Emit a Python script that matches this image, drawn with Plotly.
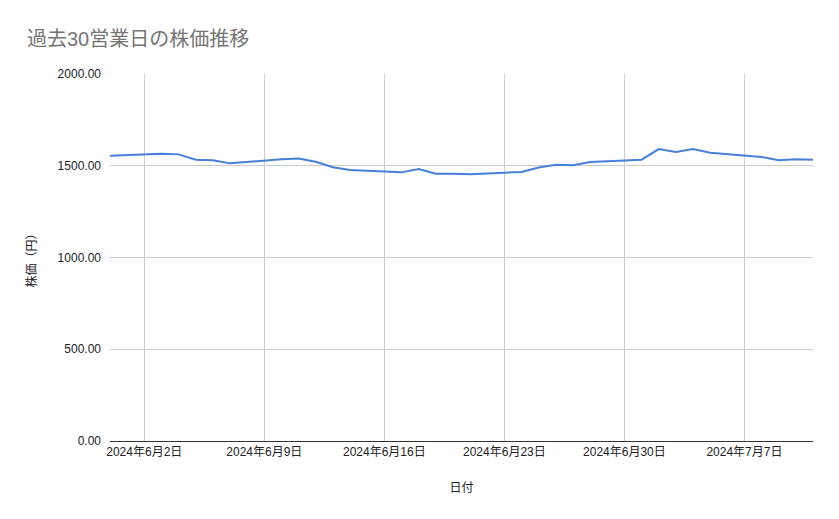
import plotly.graph_objects as go

# 過去30営業日の終値
dates = [
    "2024-05-31",
    "2024-06-03", "2024-06-04", "2024-06-05", "2024-06-06", "2024-06-07",
    "2024-06-10", "2024-06-11", "2024-06-12", "2024-06-13", "2024-06-14",
    "2024-06-17", "2024-06-18", "2024-06-19", "2024-06-20", "2024-06-21",
    "2024-06-24", "2024-06-25", "2024-06-26", "2024-06-27", "2024-06-28",
    "2024-07-01", "2024-07-02", "2024-07-03", "2024-07-04", "2024-07-05",
    "2024-07-08", "2024-07-09", "2024-07-10", "2024-07-11",
]
prices = [
    1555,
    1566, 1562, 1533, 1530, 1513,
    1535, 1540, 1522, 1492, 1477,
    1464, 1482, 1457, 1457, 1453,
    1466, 1490, 1506, 1503, 1521,
    1533, 1591, 1575, 1591, 1571,
    1548, 1530, 1535, 1533,
]

# x axis ticks (Sundays)
tick_dates = ["2024-06-02", "2024-06-09", "2024-06-16", "2024-06-23", "2024-06-30", "2024-07-07"]
tick_labels = ["2024年6月2日", "2024年6月9日", "2024年6月16日", "2024年6月23日", "2024年6月30日", "2024年7月7日"]

title = "過去30営業日の株価推移"
font_family = "Liberation Sans, Arial, Noto Sans CJK JP, sans-serif"

fig = go.Figure()
fig.add_trace(go.Scatter(x=dates, y=prices, mode="lines",
                         line=dict(color="#4680d9", width=2), name="株価"))

# page body has an 8px margin, so the figure is 8px smaller than the window
W, H = 831, 511
fig.update_layout(
    width=W, height=H,
    margin=dict(l=102, r=26, t=66, b=78),
    paper_bgcolor="white", plot_bgcolor="white",
    showlegend=False,
    font=dict(family=font_family, size=12, color="#222222"),
    title=dict(text=title, x=19 / W, xref="container", xanchor="left",
               y=1 - 31 / H, yref="container", yanchor="middle",
               font=dict(size=20, color="#757575")),
)
fig.update_xaxes(
    type="date", range=["2024-05-31", "2024-07-11"],
    tickvals=tick_dates, ticktext=tick_labels,
    showgrid=True, gridcolor="#cccccc", gridwidth=1,
    showline=True, linecolor="#333333", linewidth=1,
    ticks="", tickfont=dict(size=12, color="#222222"),
    title=dict(text="日付", standoff=25, font=dict(size=12, color="#222222")),
)
fig.update_yaxes(
    range=[0, 2000], dtick=500, tickformat=".2f",
    showgrid=True, gridcolor="#cccccc", gridwidth=1,
    zeroline=False, showline=False, ticks="",
    ticklabelstandoff=8,
    tickfont=dict(size=12, color="#222222"),
    title=dict(text="株価（円）", standoff=18, font=dict(size=12, color="#222222")),
)

fig.write_html("out.html")
